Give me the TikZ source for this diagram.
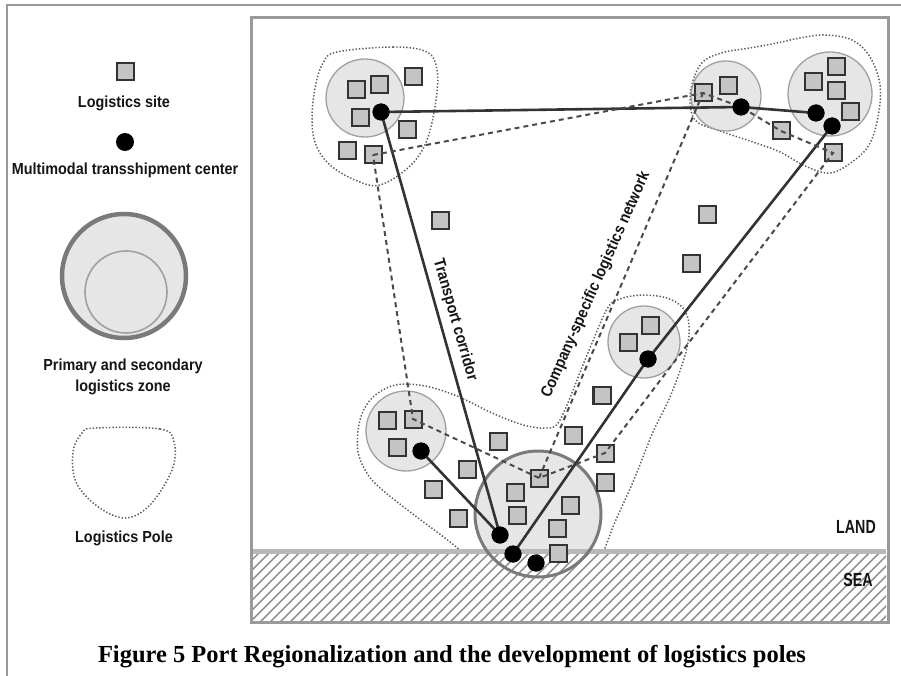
\documentclass[tikz,border=0pt]{standalone}
\usepackage{fontspec}
\setmainfont{Liberation Serif}
\newfontfamily\nf{Liberation Sans}[FakeStretch=0.9]
\newfontfamily\nnf{Liberation Sans}[FakeStretch=0.75]
\definecolor{framec}{HTML}{9A9A9A}
\definecolor{coastc}{HTML}{B8B8B8}
\definecolor{zonef}{HTML}{E6E6E6}
\definecolor{zoned}{HTML}{A0A0A0}
\definecolor{sitef}{HTML}{C4C4C4}
\definecolor{sited}{HTML}{333333}
\definecolor{corrc}{HTML}{333333}
\definecolor{netc}{HTML}{4A4A4A}
\definecolor{polec}{HTML}{5E5E5E}
\definecolor{hatchc}{HTML}{8A8A8A}
\definecolor{portc}{HTML}{7A7A7A}
\definecolor{txtc}{HTML}{151515}
\begin{document}
\begin{tikzpicture}[x=1pt,y=-1pt,
  site/.style={rectangle,draw=sited,fill=sitef,line width=2pt,minimum size=17pt,inner sep=0pt},
  hub/.style={circle,fill=black,minimum size=17pt,inner sep=0pt},
  zone/.style={circle,draw=zoned,fill=zonef,line width=1.3pt,inner sep=0pt,minimum size=#1},
  portfill/.style={circle,fill=zonef,inner sep=0pt,minimum size=126pt},
  portline/.style={circle,draw=portc,line width=3pt,inner sep=0pt,minimum size=126pt},
  corridor/.style={draw=corrc,line width=2.6pt},
  netw/.style={draw=netc,line width=2pt,dash pattern=on 5pt off 4pt},
  pole/.style={draw=polec,line width=1.5pt,dash pattern=on 1.4pt off 1.9pt},
  hatchline/.style={draw=hatchc,line width=1.4pt},
  lbl/.style={font=\nf\bfseries\fontsize{16}{19}\selectfont,text=txtc,inner sep=0pt},
  seal/.style={font=\nnf\bfseries\fontsize{19}{21}\selectfont,text=txtc,inner sep=0pt}]
\useasboundingbox (0,0) rectangle (901,676);

% outer border
\draw[framec,line width=2pt] (7,676) -- (7,5) -- (901,5);

% ---------------- legend ----------------
\node[site] (lsite) at (125,72) {};
\node[lbl] (lsitet) at (124,103) {Logistics site};
\node[hub,minimum size=18pt] (lhub) at (125,142) {};
\node[lbl] (lhubt) at (125,170) {Multimodal transshipment center};
\node[circle,draw=portc,fill=zonef,line width=4.5pt,minimum size=124pt,inner sep=0pt] (lzone) at (124,276) {};
\node[circle,draw=zoned,line width=1.6pt,minimum size=82pt,inner sep=0pt] (lzone2) at (126,292) {};
\node[lbl,align=center] (lzonet) at (123,377) {Primary and secondary\\[2pt]logistics zone};
\draw[pole] plot[smooth cycle,tension=0.6] coordinates {(95,428) (160,429) (174,442) (172,470) (150,505) (125,518) (97,506) (76,482) (73,452) (82,433)};
\node[lbl] (lpolet) at (124,538) {Logistics Pole};

% ---------------- map ----------------
% logistics poles
\draw[pole] plot[smooth cycle,tension=0.6] coordinates {(337,52) (393,47) (427,52) (437,70) (436,100) (427,140) (410,166) (380,185) (355,180) (330,165) (316,145) (312,120) (315,88) (323,63)};
\draw[pole] plot[smooth cycle,tension=0.6] coordinates {(690,97) (695,75) (705,60) (725,52) (750,48) (777,43) (800,38) (825,35) (852,40) (870,57) (880,85) (878,117) (869,145) (852,162) (830,173) (805,166) (780,152) (750,141) (717,130) (695,120)};
\draw[pole] plot[smooth,tension=0.55] coordinates {(461,551) (445,538) (405,508) (372,480) (358,452) (360,420) (372,398) (395,385) (425,386) (457,396) (490,412) (520,424) (545,428) (560,420) (585,360) (607,309) (620,299) (642,295) (667,298) (683,308) (689,325) (686,352) (670,397) (653,432) (633,482) (615,522) (604,551)};

% zones
\node[zone=78pt] (zTL) at (365,98) {};
\node[zone=70pt] (zTR1) at (726,96) {};
\node[zone=84pt] (zTR2) at (830,94) {};
\node[zone=80pt] (zBL) at (406,431) {};
\node[zone=72pt] (zM) at (644,342) {};
\node[portfill] (port) at (538,514) {};

% sea
\fill[white] (253,554) rectangle (886,621);
\begin{scope}
\clip (253,554) rectangle (886,621);
\foreach \i in {0,...,72} \draw[hatchline] ({178+\i*10},624) -- ++(75,-75);
\end{scope}
\draw[coastc,line width=5pt] (253,551) -- (886,551);
\node[portline] (portl) at (port) {};
\draw[framec,line width=3pt] (251,18) rectangle (888,622);
\node[seal] (land) at (856,527) {LAND};
\node[seal] (sea) at (858,580) {SEA};

% hubs (positions)
\node[hub] (hTL) at (381,112) {};
\node[hub] (hTR1) at (741,107) {};
\node[hub] (hTR2) at (816,113) {};
\node[hub] (hTR3) at (832,126) {};
\node[hub] (hBL) at (421,451) {};
\node[hub] (hM) at (648,359) {};
\node[hub] (hP1) at (500,535) {};
\node[hub] (hP2) at (513,554) {};
\node[hub] (hP3) at (536,563) {};

% transport corridors
\draw[corridor] (hTL.center) -- (hTR1.center) -- (hTR2.center);
\draw[corridor] (hTL.center) -- (hP1.center);
\draw[corridor] (hBL.center) -- (hP1.center);
\draw[corridor] (hTR3.center) -- (hM.center) -- (hP2.center);

% logistics sites
\foreach \n/\x/\y in {a1/356/90, a2/379/85, a3/413/77, a4/360/118, a5/407/130, a6/347/151, a7/373/155,
  b1/703/93, b2/728/86, b3/813/82, b4/836/67, b5/836/91, b6/850/112, b7/781/131, b8/833/153,
  c1/440/221, c2/707/215, c3/691/263, c4/650/325, c5/628/342, c6/601/395,
  d1/387/420, d2/413/419, d3/397/447, d4/498/441, d5/467/469, d6/433/489, d7/458/518,
  d8/573/435, d9/602/395, d10/605/453, d11/605/482, d12/539/478, d13/515/492, d14/517/515,
  d15/570/505, d16/557/528, d17/558/553}
  \node[site] (s\n) at (\x,\y) {};

% company-specific logistics network
\draw[netw] (sa7.center) -- (sb1.center) -- (hTR1.center) -- (sb7.center) -- (sb8.center) -- (sd10.center) -- (sd12.center) -- (sd2.center) -- cycle;
\draw[netw] (sd12.center) -- (sb1.center);

% redraw hubs on top
\foreach \h in {hTL,hTR1,hTR2,hTR3,hBL,hM,hP1,hP2,hP3}
  \fill[black] (\h) circle (8.5pt);

% labels
\node[lbl,rotate=-74] (tcor) at (455,320) {Transport corridor};
\node[lbl,rotate=66] (csln) at (596,285) {Company-specific logistics network};

% caption
\node[font=\bfseries\fontsize{24.5}{27}\selectfont,text=black,inner sep=0pt] (cap) at (452,657) {Figure 5 Port Regionalization and the development of logistics poles};
\end{tikzpicture}
\end{document}
